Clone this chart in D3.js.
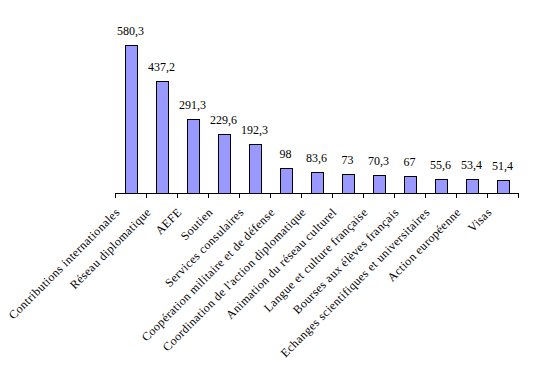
<!DOCTYPE html>
<html>
<head>
<meta charset="utf-8">
<script src="https://cdn.jsdelivr.net/npm/d3@7"></script>
<style>
  body { margin: 0; background: #fff; }
</style>
</head>
<body>
<svg id="vis"></svg>
<script>
(function() {
  // categories and values (millions)
  var categories = [
    "Contributions internationales",
    "Réseau diplomatique",
    "AEFE",
    "Soutien",
    "Services consulaires",
    "Coopération militaire et de défense",
    "Coordination de l'action diplomatique",
    "Animation du réseau culturel",
    "Langue et culture française",
    "Bourses aux élèves français",
    "Echanges scientifiques et universitaires",
    "Action européenne",
    "Visas"
  ];
  var values = [580.3, 437.2, 291.3, 229.6, 192.3, 98, 83.6, 73, 70.3, 67, 55.6, 53.4, 51.4];
  var valueLabels = ["580,3", "437,2", "291,3", "229,6", "192,3", "98", "83,6", "73", "70,3", "67", "55,6", "53,4", "51,4"];

  var width = 534, height = 373;
  var font = "'Liberation Serif'";
  var chart = d3.select("#vis").attr("width", width).attr("height", height);

  var x = d3.scaleBand().domain(categories).range([115, 518]);
  var y = d3.scaleLinear().domain([0, 580.3]).range([193, 45]);
  var barWidth = 12;

  // bars
  chart.append("g").selectAll("rect")
    .data(values)
    .enter()
    .append("rect")
      .attr("fill", "#9999ff")
      .attr("stroke", "black")
      .attr("x", function(d, i) { return Math.round(x(categories[i]) + x.bandwidth() / 2 - barWidth / 2) + 0.5; })
      .attr("y", function(d) { return Math.round(y(d)) + 0.5; })
      .attr("width", barWidth)
      .attr("height", function(d) { return Math.round(y(0)) - Math.round(y(d)); });

  // value labels
  chart.append("g").selectAll("text")
    .data(values)
    .enter()
    .append("text")
      .style("font-family", font)
      .style("font-size", "12px")
      .attr("text-anchor", "middle")
      .attr("x", function(d, i) { return x(categories[i]) + x.bandwidth() / 2; })
      .attr("y", function(d) { return y(d) - 10; })
      .text(function(d, i) { return valueLabels[i]; });

  // x axis: line plus ticks between categories
  var axis = chart.append("g");
  axis.append("line")
    .attr("x1", 115).attr("x2", 519)
    .attr("y1", 193.5).attr("y2", 193.5)
    .attr("stroke", "black");
  var bounds = categories.map(function(c) { return x(c); }).concat([x.range()[1]]);
  axis.selectAll(".tick")
    .data(bounds)
    .enter()
    .append("line")
      .attr("x1", function(d) { return Math.round(d) + 0.5; })
      .attr("x2", function(d) { return Math.round(d) + 0.5; })
      .attr("y1", 193).attr("y2", 198)
      .attr("stroke", "black");

  // rotated category labels
  chart.append("g").selectAll("text")
    .data(categories)
    .enter()
    .append("text")
      .style("font-family", font)
      .style("font-size", "12px")
      .style("letter-spacing", "0.4px")
      .attr("text-anchor", "end")
      .attr("transform", function(d) {
        var cx = x(d) + x.bandwidth() / 2;
        return "translate(" + (cx - 10) + ",213) rotate(-45)";
      })
      .text(function(d) { return d; });
}());
</script>
</body>
</html>
